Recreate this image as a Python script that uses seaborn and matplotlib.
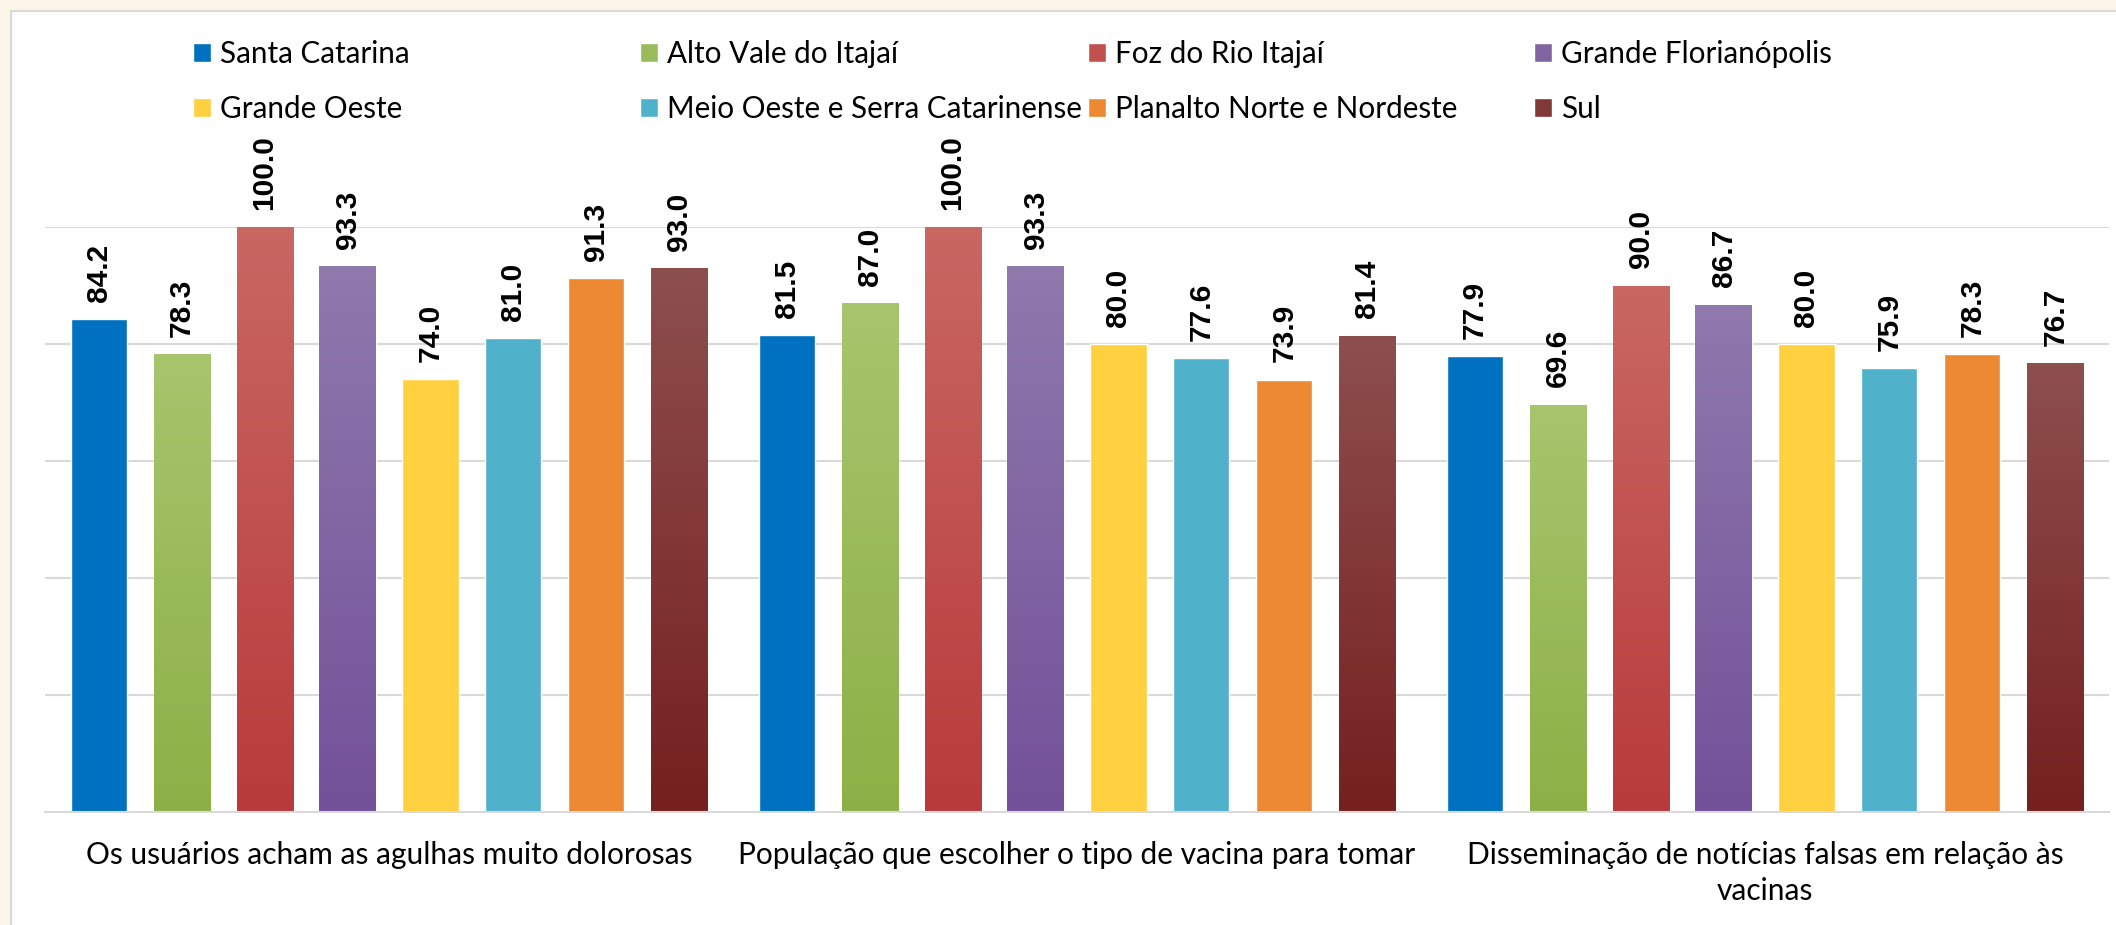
# -*- coding: utf-8 -*-
import numpy as np
import pandas as pd
import matplotlib
matplotlib.use('Agg')
import matplotlib.pyplot as plt
import matplotlib.colors as mcolors
from matplotlib.patches import Patch, Rectangle
import seaborn as sns

# Dados
categorias = [
    'Os usuários acham as agulhas muito dolorosas',
    'População que escolher o tipo de vacina para tomar',
    'Disseminação de notícias falsas em relação às\nvacinas',
]
regioes = ['Santa Catarina', 'Alto Vale do Itajaí', 'Foz do Rio Itajaí', 'Grande Florianópolis',
           'Grande Oeste', 'Meio Oeste e Serra Catarinense', 'Planalto Norte e Nordeste', 'Sul']
agulhas = [84.2, 78.3, 100.0, 93.3, 74.0, 81.0, 91.3, 93.0]
escolha = [81.5, 87.0, 100.0, 93.3, 80.0, 77.6, 73.9, 81.4]
noticias = [77.9, 69.6, 90.0, 86.7, 80.0, 75.9, 78.3, 76.7]

# cores (topo, base) - algumas com degradê
cores = [('#0070c0', '#0070c0'), ('#a7c56d', '#8db046'), ('#c96763', '#b83b3b'),
         ('#8f79ad', '#73519a'), ('#ffd03f', '#ffd03f'), ('#50b1ca', '#50b1ca'),
         ('#ed8933', '#ed8933'), ('#8d4f4e', '#75201f')]

df = pd.DataFrame({
    'categoria': np.repeat(categorias, len(regioes)),
    'regiao': regioes * len(categorias),
    'valor': agulhas + escolha + noticias,
})

sns.set_theme(style='white')
plt.rcParams['font.family'] = ['Lato', 'DejaVu Sans']
plt.rcParams['text.color'] = 'black'

fig = plt.figure(figsize=(21.16, 9.25), dpi=100)
fig.patch.set_facecolor('#fcf5e8')
fig.patches.append(Rectangle((11 / 2116, -0.01), 1.0, (925 - 11) / 925 + 0.01, transform=fig.transFigure,
                             facecolor='white', edgecolor='#d9d9d9', linewidth=1.5, zorder=-10))
ax = fig.add_axes([45 / 2116, (925 - 812) / 925, (2109 - 45) / 2116, (812 - 227) / 925])
ax.set_facecolor('none')

paleta = [mcolors.to_hex(np.mean([mcolors.to_rgb(c) for c in par], axis=0)) for par in cores]
sns.barplot(data=df, x='categoria', y='valor', hue='regiao', hue_order=regioes, order=categorias,
            palette=paleta, saturation=1, width=0.965, gap=0.325, legend=False, ax=ax, errorbar=None)

# degradê vertical nas barras
for cont, (topo, base) in zip(ax.containers, cores):
    if topo == base:
        continue
    grad = np.array([mcolors.to_rgb(topo), mcolors.to_rgb(base)])
    grad = np.linspace(grad[0], grad[1], 128)[:, None, :]
    for bar in cont:
        x, w, h = bar.get_x(), bar.get_width(), bar.get_height()
        im = ax.imshow(grad, extent=[x, x + w, 0, h], aspect='auto', origin='upper',
                       zorder=bar.get_zorder() + 0.1)
        im.set_clip_path(bar)

for cont in ax.containers:
    ax.bar_label(cont, fmt='%.1f', rotation=90, padding=12.5, fontsize=21.5, fontweight='bold',
                 family=['Liberation Sans', 'DejaVu Sans'], color='black')

ax.set_xlim(-0.5, 2.5)
ax.set_ylim(0, 100)
ax.set_yticks([20, 40, 60, 80, 100])
ax.yaxis.grid(True, color='#d9d9d9', linewidth=1.5)
ax.set_axisbelow(True)
ax.tick_params(axis='y', length=0, labelleft=False)
ax.tick_params(axis='x', length=0, pad=21, labelsize=21.5, labelcolor='black')
for lbl in ax.get_xticklabels():
    lbl.set_linespacing(1.32)
ax.set_xticks([-0.5, 0.5, 1.5, 2.5], minor=True)
ax.tick_params(axis='x', which='minor', length=8, width=1.5, color='#d9d9d9', direction='out')
for s in ['left', 'right', 'top']:
    ax.spines[s].set_visible(False)
ax.spines['bottom'].set_color('#d9d9d9')
ax.spines['bottom'].set_linewidth(1.5)
ax.set_xlabel('')
ax.set_ylabel('')

# legenda em 4 colunas
colunas_x = [193, 640, 1088, 1534]
for i, xpos in enumerate(colunas_x):
    itens = [Patch(facecolor=paleta[i], label=regioes[i]), Patch(facecolor=paleta[i + 4], label=regioes[i + 4])]
    fig.legend(handles=itens, loc='upper left', bbox_to_anchor=(xpos / 2116, 1 - 40 / 925),
               frameon=False, fontsize=21.3, handlelength=0.6, handleheight=0.6, handletextpad=0.3,
               labelspacing=0.92, borderpad=0, borderaxespad=0, labelcolor='black')

fig.savefig('out.png', dpi=100)
plt.close(fig)
